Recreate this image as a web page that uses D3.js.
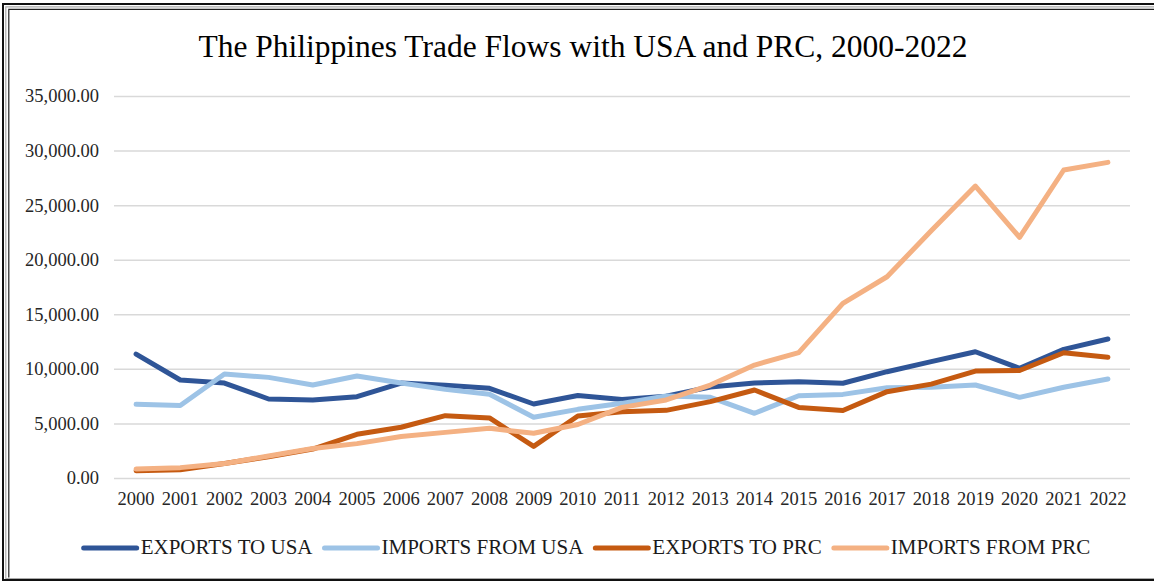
<!DOCTYPE html>
<html>
<head>
<meta charset="utf-8">
<script src="https://cdn.jsdelivr.net/npm/d3@7"></script>
<style>
  html, body { margin: 0; padding: 0; background: #fff; overflow: hidden; }
  svg { display: block; }
  text { font-family: "Liberation Serif", "Times New Roman", serif; fill: #262626; }
</style>
</head>
<body>
<svg id="chart" width="1154" height="582"></svg>
<script>
// Trade values (millions USD), 2000-2022
const years = ["2000","2001","2002","2003","2004","2005","2006","2007","2008","2009","2010",
  "2011","2012","2013","2014","2015","2016","2017","2018","2019","2020","2021","2022"];

const exportsToUSA = [11350, 8980, 8700, 7240, 7150, 7450, 8700, 8500, 8220, 6780, 7560,
  7200, 7500, 8340, 8700, 8820, 8680, 9740, 10660, 11570, 10050, 11790, 12740];

const importsFromUSA = [6750, 6650, 9530, 9220, 8520, 9350, 8700, 8120, 7680, 5560, 6290,
  6840, 7510, 7390, 5930, 7540, 7660, 8270, 8310, 8520, 7390, 8310, 9070];

const exportsToPRC = [660, 760, 1330, 1950, 2650, 4000, 4650, 5710, 5500, 2900, 5680,
  6080, 6200, 7000, 8060, 6470, 6180, 7910, 8600, 9800, 9850, 11480, 11060];

const importsFromPRC = [820, 950, 1320, 2020, 2700, 3150, 3800, 4180, 4550, 4100, 4900,
  6470, 7150, 8520, 10350, 11480, 16000, 18440, 22650, 26750, 22050, 28220, 28920];

const seriesNames = ["EXPORTS TO USA", "IMPORTS FROM USA", "EXPORTS TO PRC", "IMPORTS FROM PRC"];
const seriesColors = ["#2F5597", "#9DC3E6", "#C55A11", "#F4B183"];
const yTicks = [0, 5000, 10000, 15000, 20000, 25000, 30000, 35000];

const series = [exportsToUSA, importsFromUSA, exportsToPRC, importsFromPRC].map((values, i) => ({
  name: seriesNames[i], color: seriesColors[i], values
}));

const svg = d3.select("#chart");
const serif = "'Liberation Serif', 'Times New Roman', serif";

// Chart frame: double rule on the left and top, closing rule at the bottom
svg.append("path")
  .attr("d", "M1160,4 H3 V580 H1160")
  .attr("fill", "none").attr("stroke", "#111").attr("stroke-width", 2);
svg.append("path")
  .attr("d", "M1160,6.8 H5.8 V578.5 H1160")
  .attr("fill", "none").attr("stroke", "#aaa").attr("stroke-width", 1.2);
svg.append("path")
  .attr("d", "M1160,9.3 H8.8 V577.5")
  .attr("fill", "none").attr("stroke", "#222").attr("stroke-width", 1.2);

const plot = { left: 114, right: 1130, top: 96, bottom: 478 };

const x = d3.scaleBand().domain(years).range([plot.left, plot.right]);
const y = d3.scaleLinear().domain([0, 35000]).range([plot.bottom, plot.top]);

// Title
svg.append("text")
  .attr("x", 583).attr("y", 57)
  .attr("text-anchor", "middle")
  .style("font-family", serif)
  .style("font-size", "31.5px")
  .style("fill", "#000")
  .text("The Philippines Trade Flows with USA and PRC, 2000-2022");

// Value axis with horizontal gridlines
const yAxis = d3.axisLeft(y)
  .tickValues(yTicks)
  .tickSize(-(plot.right - plot.left))
  .tickPadding(15)
  .tickFormat(d3.format(",.2f"));

const gy = svg.append("g")
  .attr("transform", `translate(${plot.left},0)`)
  .call(yAxis)
  .attr("font-family", serif)
  .attr("font-size", 18.5);
gy.select(".domain").remove();
gy.selectAll(".tick line").attr("stroke", "#d9d9d9").attr("stroke-width", 1.5);
gy.selectAll(".tick text").attr("fill", "#262626");

// Category axis
const xAxis = d3.axisBottom(x).tickSize(0).tickPadding(14);
const gx = svg.append("g")
  .attr("transform", `translate(0,${plot.bottom})`)
  .call(xAxis)
  .attr("font-family", serif)
  .attr("font-size", 18.5);
gx.select(".domain").remove();
gx.selectAll(".tick text").attr("fill", "#262626");

// Series lines
const line = d3.line()
  .x((d, i) => x(years[i]) + x.bandwidth() / 2)
  .y(d => y(d));

svg.append("g").selectAll("path")
  .data(series)
  .join("path")
  .attr("d", d => line(d.values))
  .attr("fill", "none")
  .attr("stroke", d => d.color)
  .attr("stroke-width", 5)
  .attr("stroke-linejoin", "round")
  .attr("stroke-linecap", "round");

// Legend
const legend = svg.append("g");
const swatchLen = 53, swatchGap = 4, itemGap = 12, legendY = 548;
const items = legend.selectAll("g.item")
  .data(series)
  .join("g")
  .attr("class", "item");
items.append("line")
  .attr("x1", 0).attr("x2", swatchLen)
  .attr("y1", legendY).attr("y2", legendY)
  .attr("stroke", d => d.color)
  .attr("stroke-width", 5)
  .attr("stroke-linecap", "round");
items.append("text")
  .attr("x", swatchLen + swatchGap)
  .attr("y", legendY + 6)
  .style("font-family", serif)
  .style("font-size", "21px")
  .style("fill", "#1a1a1a")
  .text(d => d.name);

let offset = 0;
const offsets = [];
items.each(function () {
  offsets.push(offset);
  const tw = d3.select(this).select("text").node().getComputedTextLength();
  offset += swatchLen + swatchGap + tw + itemGap;
});
const totalW = offset - itemGap;
const startX = 587 - totalW / 2;
items.attr("transform", (d, i) => `translate(${startX + offsets[i]},0)`);
</script>
</body>
</html>
